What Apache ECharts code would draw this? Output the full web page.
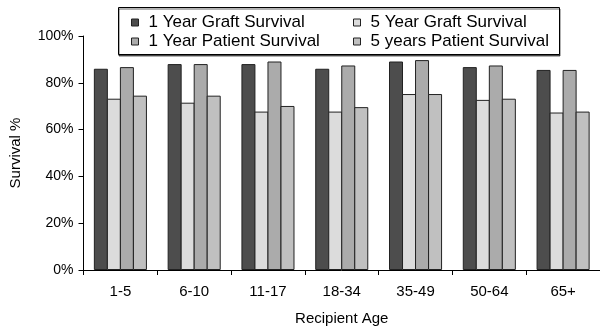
<!DOCTYPE html>
<html><head><meta charset="utf-8">
<script src="https://cdn.jsdelivr.net/npm/echarts@6/dist/echarts.min.js"></script>
<style>html,body{margin:0;padding:0;background:#fff}#c{width:600px;height:331px}</style>
</head><body><div id="c"></div>
<script>
const categories = ['1-5','6-10','11-17','18-34','35-49','50-64','65+'];
const yearOneGraft = [86.0, 88.0, 88.0, 86.0, 89.1, 86.7, 85.5];
const yearFiveGraft = [73.2, 71.5, 67.7, 67.7, 75.2, 72.7, 67.3];
const yearOnePatient = [86.7, 88.0, 89.1, 87.4, 89.7, 87.4, 85.5];
const yearFivePatient = [74.5, 74.5, 70.1, 69.6, 75.2, 73.2, 67.7];
const seriesNames = ['1 Year Graft Survival','5 Year Graft Survival','1 Year Patient Survival','5 years Patient Survival'];
const yTicks = [0,20,40,60,80,100];

const colors = ['#4d4d4d','#dcdcdc','#ababab','#c0c0c0'];
const font = 'Liberation Sans, Arial, sans-serif';
const chart = echarts.init(document.getElementById('c'), null, {renderer:'canvas'});
const dataSets = [yearOneGraft, yearFiveGraft, yearOnePatient, yearFivePatient];
const legendCommon = {
  orient:'vertical', top:13, padding:0, itemGap:0, itemWidth:7, itemHeight:7, icon:'rect',
  itemStyle:{borderColor:'#222', borderWidth:1},
  textStyle:{fontFamily:font, fontSize:17, color:'#000', lineHeight:19, padding:[0,0,0,5]},
  selectedMode:false
};
chart.setOption({
  animation:false,
  backgroundColor:'#fff',
  graphic:[{type:'rect', shape:{x:118.5, y:7.5, width:441, height:47},
    style:{fill:'#fff', stroke:'#000', lineWidth:1, shadowColor:'rgba(0,0,0,0.6)', shadowOffsetY:1.5, shadowOffsetX:0.5, shadowBlur:0}, z:-1}],
  legend:[
    Object.assign({left:131, data:[seriesNames[0], seriesNames[2]]}, legendCommon),
    Object.assign({left:353, data:[seriesNames[1], seriesNames[3]]}, legendCommon)
  ],
  grid:{left:83.5, top:36, width:518, height:236.5, containLabel:false},
  xAxis:{type:'category', data:categories,
    axisLine:{lineStyle:{color:'#000', width:1}},
    axisTick:{show:true, length:5, lineStyle:{color:'#000'}, alignWithLabel:false},
    axisLabel:{fontFamily:font, fontSize:15, color:'#000', margin:14},
    name:'Recipient Age', nameLocation:'middle', nameGap:41,
    nameTextStyle:{fontFamily:font, fontSize:15, color:'#000'}},
  yAxis:{type:'value', min:yTicks[0], max:yTicks[yTicks.length-1], interval:20,
    axisLine:{show:true, lineStyle:{color:'#000', width:1}},
    axisTick:{show:true, length:5, lineStyle:{color:'#000'}},
    splitLine:{show:false},
    axisLabel:{fontFamily:font, fontSize:14, color:'#000', margin:10, formatter:v=>v+'%'},
    name:'Survival %', nameLocation:'middle', nameGap:60, nameRotate:90,
    nameTextStyle:{fontFamily:font, fontSize:15, color:'#000'}},
  series: seriesNames.map((n,i)=>({
    name:n, type:'bar', data:dataSets[i], barGap:'-7%', barWidth:14,
    itemStyle:{color:colors[i], borderColor:'#222', borderWidth:1}
  }))
});
</script></body></html>
